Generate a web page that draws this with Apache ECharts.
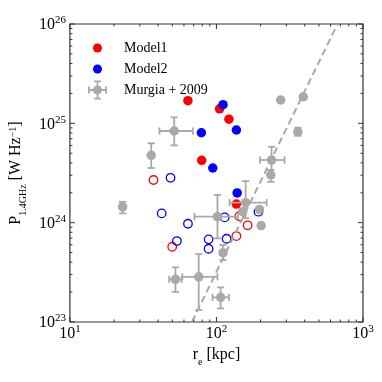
<!DOCTYPE html>
<html>
<head>
<meta charset="utf-8">
<script src="https://cdn.jsdelivr.net/npm/echarts@6/dist/echarts.min.js"></script>
<style>
html, body { margin: 0; padding: 0; background: #fff; }
#chart { width: 382px; height: 382px; }
</style>
</head>
<body>
<div id="chart"></div>
<script>
// Model1 (filled / open)
const model1X = [63.9, 105, 121.7, 79.3, 136.8]
const model1Y = [1.69e25, 1.40e25, 1.10e25, 4.24e24, 1.54e24]
const model1OpenX = [37.2, 49.9, 143.3, 163.2, 136.8]
const model1OpenY = [2.69e24, 5.72e23, 1.16e24, 9.4e23, 7.33e23]

// Model2 (filled / open)
const model2X = [110.9, 78.9, 136.8, 94.4, 138.4]
const model2Y = [1.54e25, 8.04e24, 8.57e24, 3.55e24, 1.99e24]
const model2OpenX = [48.6, 42.3, 63.9, 53.7, 113.7, 88.4, 88.4, 117.3, 193.5]
const model2OpenY = [2.83e24, 1.24e24, 9.75e23, 6.53e23, 1.13e24, 6.79e23, 5.46e23, 6.89e23, 1.29e24]

// Murgia + 2009, with error ranges (lo == hi -> no bar)
const murgiaX    = [51.5, 35.9, 22.9, 101.6, 158.2, 52.5, 75.7, 106.8, 110.9, 196.5, 201.9, 274.4, 391.5, 359, 237.6, 235, 151]
const murgiaY    = [8.37e24, 4.76e24, 1.44e24, 1.15e24, 1.59e24, 2.69e23, 2.85e23, 1.77e23, 4.98e23, 1.36e24, 9.35e23, 1.72e25, 1.85e25, 8.23e24, 4.27e24, 3.02e24, 1.29e24]
const murgiaXLo  = [40.8, 35.9, 22.9, 70.8, 122.8, 47.6, 58.5, 94.0, 105.9, 196.5, 201.9, 274.4, 391.5, 359, 198.3, 235, 151]
const murgiaXHi  = [69.0, 35.9, 22.9, 140.6, 219.9, 57.9, 101.6, 121.7, 116.1, 196.5, 201.9, 274.4, 391.5, 359, 291.7, 235, 151]
const murgiaYLo  = [6.0e24, 3.55e24, 1.24e24, 6.95e23, 1.11e24, 2.01e23, 1.32e23, 1.37e23, 4.2e23, 1.36e24, 9.35e23, 1.72e25, 1.85e25, 7.5e24, 3.09e24, 2.58e24, 1.29e24]
const murgiaYHi  = [1.15e25, 6.3e24, 1.62e24, 1.90e24, 2.62e24, 3.55e23, 4.83e23, 2.23e23, 5.95e23, 1.36e24, 9.35e23, 1.72e25, 1.85e25, 9.03e24, 5.81e24, 3.39e24, 1.29e24]

// dashed relation
const fitX = [68, 670]
const fitY = [1e23, 1e26]

// axes
const xDecades = [10, 100, 1000]
const xTickLabels = ['1', '2', '3']
const yDecades = [1e23, 1e24, 1e25, 1e26]
const yTickLabels = ['23', '24', '25', '26']
const minorSteps = [2, 3, 4, 5, 6, 7, 8, 9]

const font = 'Liberation Serif'
const gray = '#a9a9a9'
const frame = '#333'

const zip = (a, b) => a.map((v, i) => [v, b[i]])

const tickRows = []
function addTicks(decades, dim) {
    decades.forEach((d, i) => {
        tickRows.push([dim, d, 1])
        if (i < decades.length - 1) {
            minorSteps.forEach(m => tickRows.push([dim, d * m, 0]))
        }
    })
}
addTicks(xDecades, 0)
addTicks(yDecades, 1)

const errRows = murgiaX.map((x, i) => [x, murgiaY[i], murgiaXLo[i], murgiaXHi[i], murgiaYLo[i], murgiaYHi[i]])

const rich = {
    b: { fontFamily: font, fontSize: 16, lineHeight: 18, verticalAlign: 'bottom', color: '#000' },
    s: { fontFamily: font, fontSize: 11, lineHeight: 12, verticalAlign: 'top', color: '#000' },
    n: { fontFamily: font, fontSize: 16, lineHeight: 20, verticalAlign: 'top', color: '#000' },
    sub: { fontFamily: font, fontSize: 10, lineHeight: 13, verticalAlign: 'bottom', color: '#000' },
    sup: { fontFamily: font, fontSize: 10, lineHeight: 13, verticalAlign: 'top', color: '#000' }
}

function powLabel(decades, labels) {
    return function (v) {
        const i = decades.findIndex(d => Math.abs(Math.log10(d) - Math.log10(v)) < 1e-6)
        return i < 0 ? '' : '{b|10}{s|' + labels[i] + '}'
    }
}

function renderTicks(params, api) {
    const cs = params.coordSys
    const major = api.value(2) === 1
    const len = major ? 5 : 2.5
    const style = { stroke: frame, lineWidth: 1 }
    if (api.value(0) === 0) {
        const px = api.coord([api.value(1), yDecades[0]])[0]
        return { type: 'group', children: [
            { type: 'line', shape: { x1: px, y1: cs.y + cs.height, x2: px, y2: cs.y + cs.height - len }, style },
            { type: 'line', shape: { x1: px, y1: cs.y, x2: px, y2: cs.y + len }, style }
        ] }
    }
    const py = api.coord([xDecades[0], api.value(1)])[1]
    return { type: 'group', children: [
        { type: 'line', shape: { x1: cs.x, y1: py, x2: cs.x + len, y2: py }, style },
        { type: 'line', shape: { x1: cs.x + cs.width, y1: py, x2: cs.x + cs.width - len, y2: py }, style }
    ] }
}

function renderErrorBar(params, api) {
    const y = api.value(1), x = api.value(0)
    const style = { stroke: gray, lineWidth: 1.8 }
    const cap = 3.6
    const children = []
    if (api.value(2) !== api.value(3)) {
        const a = api.coord([api.value(2), y]), b = api.coord([api.value(3), y])
        children.push({ type: 'line', shape: { x1: a[0], y1: a[1], x2: b[0], y2: b[1] }, style })
        children.push({ type: 'line', shape: { x1: a[0], y1: a[1] - cap, x2: a[0], y2: a[1] + cap }, style })
        children.push({ type: 'line', shape: { x1: b[0], y1: b[1] - cap, x2: b[0], y2: b[1] + cap }, style })
    }
    if (api.value(4) !== api.value(5)) {
        const a = api.coord([x, api.value(4)]), b = api.coord([x, api.value(5)])
        children.push({ type: 'line', shape: { x1: a[0], y1: a[1], x2: b[0], y2: b[1] }, style })
        children.push({ type: 'line', shape: { x1: a[0] - cap, y1: a[1], x2: a[0] + cap, y2: a[1] }, style })
        children.push({ type: 'line', shape: { x1: b[0] - cap, y1: b[1], x2: b[0] + cap, y2: b[1] }, style })
    }
    return { type: 'group', children }
}

const dotIcon = 'path://M0 0M31 20M5 10a4.5 4.5 0 1 1 9 0a4.5 4.5 0 1 1 -9 0z'
const crossIcon = 'path://M0 0M31 20M0 9.1h19v1.8h-19zM0 6.5h1.8v7h-1.8zM17.2 6.5h1.8v7h-1.8zM8.6 0.5h1.8v19h-1.8zM6 0.5h7v1.8h-7zM6 17.7h7v1.8h-7zM5 10a4.5 4.5 0 1 1 9 0a4.5 4.5 0 1 1 -9 0z'

const myChart = echarts.init(document.getElementById('chart'))

const option = {
    animation: false,
    backgroundColor: '#fff',
    grid: {
        left: 65, right: 19, top: 24, bottom: 60,
        show: true, borderColor: frame, borderWidth: 1.2, backgroundColor: 'transparent'
    },
    legend: {
        orient: 'vertical',
        left: 83,
        top: 33,
        itemWidth: 31,
        itemHeight: 20,
        itemGap: 1,
        selectedMode: false,
        textStyle: { fontFamily: font, fontSize: 14, color: '#000' },
        data: [
            { name: 'Model1', icon: dotIcon },
            { name: 'Model2', icon: dotIcon },
            { name: 'Murgia + 2009', icon: crossIcon }
        ]
    },
    xAxis: {
        type: 'log',
        logBase: 10,
        min: 10,
        max: 1000,
        name: '{n|r}{sub|e}{n| [kpc]}',
        nameLocation: 'middle',
        nameGap: 22,
        nameTextStyle: { rich },
        axisLine: { show: false },
        axisTick: { show: false },
        splitLine: { show: false },
        axisLabel: {
            margin: 2,
            showMinLabel: true,
            showMaxLabel: true,
            formatter: powLabel(xDecades, xTickLabels),
            rich
        }
    },
    yAxis: {
        type: 'log',
        logBase: 10,
        min: 1e23,
        max: 1e26,
        name: '{n|P}{sub|1.4GHz}{n| [W Hz}{sup|−1}{n|]}',
        nameLocation: 'middle',
        nameRotate: 90,
        nameGap: 38,
        nameTextStyle: { rich },
        axisLine: { show: false },
        axisTick: { show: false },
        splitLine: { show: false },
        axisLabel: {
            margin: 4,
            showMinLabel: true,
            showMaxLabel: true,
            formatter: powLabel(yDecades, yTickLabels),
            rich
        }
    },
    series: [
        {
            name: 'Model1 open', type: 'scatter', z: 2, symbolSize: 8.5,
            itemStyle: { color: 'rgba(0,0,0,0)', borderColor: '#ff0000', borderWidth: 1.3, opacity: 1 },
            data: zip(model1OpenX, model1OpenY)
        },
        {
            name: 'Model2 open', type: 'scatter', z: 2, symbolSize: 8.5,
            itemStyle: { color: 'rgba(0,0,0,0)', borderColor: '#0000ff', borderWidth: 1.3, opacity: 1 },
            data: zip(model2OpenX, model2OpenY)
        },
        {
            name: 'Model1', type: 'scatter', z: 3, symbolSize: 9.5,
            itemStyle: { color: '#ff0000', opacity: 1 },
            data: zip(model1X, model1Y)
        },
        {
            name: 'Model2', type: 'scatter', z: 3, symbolSize: 9.5,
            itemStyle: { color: '#0000ff', opacity: 1 },
            data: zip(model2X, model2Y)
        },
        {
            name: 'Murgia err', type: 'custom', z: 4,
            renderItem: renderErrorBar,
            data: errRows
        },
        {
            name: 'Murgia + 2009', type: 'scatter', z: 5, symbolSize: 9.5,
            itemStyle: { color: gray, opacity: 1 },
            data: zip(murgiaX, murgiaY)
        },
        {
            name: 'fit', type: 'line', z: 6, symbol: 'none',
            lineStyle: { color: gray, width: 2, type: [7, 4] },
            data: zip(fitX, fitY)
        },
        {
            name: 'ticks', type: 'custom', z: 7, silent: true,
            renderItem: renderTicks,
            data: tickRows
        }
    ]
}

myChart.setOption(option)
</script>
</body>
</html>
